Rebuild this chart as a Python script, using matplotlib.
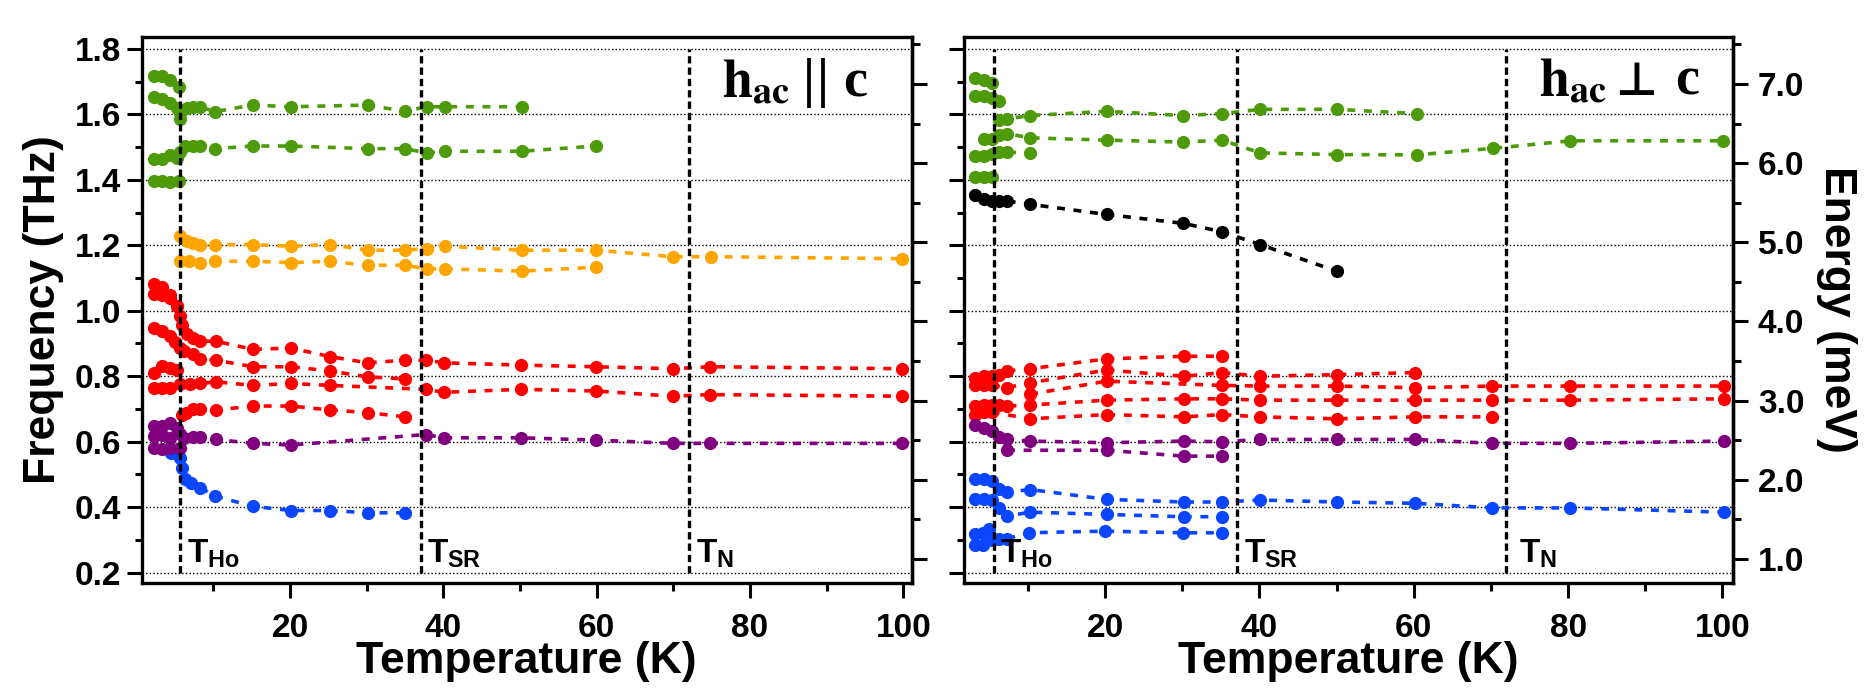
import matplotlib
matplotlib.use("Agg")
import matplotlib.pyplot as plt
from matplotlib.ticker import MultipleLocator, FormatStrFormatter

plt.rcParams['font.family'] = ['Liberation Sans', 'DejaVu Sans']
plt.rcParams['font.weight'] = 'bold'
plt.rcParams['mathtext.fontset'] = 'custom'
plt.rcParams['mathtext.rm'] = 'Liberation Sans:bold'
plt.rcParams['mathtext.it'] = 'Liberation Sans:bold'
plt.rcParams['mathtext.bf'] = 'Liberation Sans:bold'

GREEN = '#4d9a0a'
ORANGE = '#ffa500'
RED = '#ff0000'
PURPLE = '#800080'
BLUE = '#0a46ff'
BLACK = '#000000'

THZ_TO_MEV = 4.1357
T_HO, T_SR, T_N = 5.6, 37.1, 72.0

# ---- h_ac || c (left panel) ----
lg1_t = [2.2, 3.3, 4.4, 5.5]
lg1_f = [1.716, 1.716, 1.706, 1.684]
lg2_t = [2.2, 3.3, 4.3, 5.2, 5.6, 5.7, 6.5, 7.4, 8.2, 10.2, 15.1, 20.1, 30.1, 35.0, 37.8, 40.2, 50.2]
lg2_f = [1.653, 1.647, 1.635, 1.620, 1.605, 1.586, 1.620, 1.623, 1.623, 1.608, 1.628, 1.623, 1.628, 1.609, 1.623, 1.623, 1.623]
lg3_t = [2.2, 3.3, 4.3, 5.3, 5.7, 6.3, 7.4, 8.3, 10.2, 15.1, 20.1, 30.1, 35.0, 37.8, 40.2, 50.2, 59.9]
lg3_f = [1.464, 1.464, 1.477, 1.467, 1.485, 1.503, 1.503, 1.503, 1.495, 1.503, 1.503, 1.495, 1.495, 1.482, 1.487, 1.487, 1.503]
lg4_t = [2.2, 3.3, 4.3, 5.5]
lg4_f = [1.396, 1.396, 1.394, 1.396]

lo1_t = [5.6, 6.5, 7.4, 8.2, 10.2, 15.1, 20.1, 25.2, 30.1, 35.0, 37.8, 40.2, 50.2, 59.9, 70.0, 74.9, 99.8]
lo1_f = [1.228, 1.212, 1.208, 1.202, 1.202, 1.202, 1.197, 1.202, 1.185, 1.185, 1.190, 1.197, 1.185, 1.185, 1.165, 1.165, 1.159]
lo2_t = [5.6, 6.8, 8.2, 10.2, 15.1, 20.1, 25.2, 30.1, 35.0, 37.8, 40.2, 50.2, 59.9]
lo2_f = [1.151, 1.151, 1.147, 1.151, 1.151, 1.147, 1.151, 1.139, 1.139, 1.128, 1.128, 1.121, 1.133]

lr0_t = [2.2, 3.3, 4.4, 5.2]
lr0_f = [1.052, 1.048, 1.040, 1.014]
lr1_t = [2.2, 3.3, 4.3, 5.2, 5.6, 5.9, 6.5, 7.4, 8.3, 10.3, 15.2, 20.1, 25.2, 30.1, 35.0, 37.7, 40.1, 50.1, 59.9, 69.9, 74.8, 99.8]
lr1_f = [1.083, 1.073, 1.047, 1.014, 0.983, 0.955, 0.930, 0.918, 0.907, 0.907, 0.882, 0.886, 0.860, 0.841, 0.849, 0.849, 0.841, 0.834, 0.829, 0.823, 0.829, 0.823]
lr2_t = [2.2, 3.3, 4.3, 5.0, 5.6, 6.1, 7.4, 8.3, 10.3, 15.2, 20.1, 25.2, 30.1, 35.0]
lr2_f = [0.948, 0.938, 0.922, 0.905, 0.887, 0.877, 0.867, 0.853, 0.849, 0.829, 0.829, 0.816, 0.798, 0.792]
lr3_t = [2.2, 3.3, 4.3, 5.2]
lr3_f = [0.811, 0.831, 0.826, 0.820]
lr4_t = [2.2, 3.3, 4.3, 5.6, 7.0, 8.3, 10.3, 15.2, 20.1, 25.2, 37.7, 40.1, 50.1, 59.9, 69.9, 74.8, 99.8]
lr4_f = [0.765, 0.765, 0.765, 0.775, 0.775, 0.778, 0.783, 0.772, 0.778, 0.772, 0.760, 0.751, 0.760, 0.755, 0.739, 0.744, 0.739]
lr5_t = [5.9, 6.4, 7.4, 8.3, 10.3, 15.2, 20.1, 25.2, 30.1, 35.0]
lr5_f = [0.683, 0.689, 0.699, 0.699, 0.697, 0.709, 0.709, 0.697, 0.689, 0.676]

lp1_t = [2.2, 3.3, 4.3, 5.2, 5.6, 6.1, 7.4, 8.3, 10.3, 15.2, 20.1, 37.7, 40.1, 50.1, 59.9, 69.9, 74.8, 99.8]
lp1_f = [0.648, 0.648, 0.656, 0.643, 0.625, 0.612, 0.615, 0.615, 0.607, 0.595, 0.590, 0.622, 0.612, 0.612, 0.605, 0.595, 0.595, 0.595]
lp2_t = [2.2, 3.3, 4.3]
lp2_f = [0.617, 0.620, 0.612]
lp3_t = [2.2, 3.3, 4.3, 5.6]
lp3_f = [0.582, 0.578, 0.582, 0.582]

lb1_t = [4.5, 5.6, 5.9, 6.3, 7.1, 8.3, 10.2, 15.1, 20.1, 25.2, 30.1, 35.0]
lb1_f = [0.566, 0.551, 0.521, 0.485, 0.475, 0.460, 0.434, 0.403, 0.390, 0.390, 0.383, 0.383]

# ---- h_ac perp c (right panel) ----
rg1_t = [3.2, 4.3, 5.4]
rg1_f = [1.711, 1.704, 1.696]
rg2_t = [3.2, 4.3, 5.4, 6.3]
rg2_f = [1.657, 1.657, 1.650, 1.640]
rg3_t = [6.3, 7.3, 10.3, 20.2, 30.1, 35.2, 40.1, 50.0, 60.4]
rg3_f = [1.584, 1.586, 1.596, 1.609, 1.596, 1.602, 1.615, 1.615, 1.602]
rg4_t = [4.3, 5.4, 6.3, 7.3, 10.3, 20.2, 30.1, 35.2, 40.1, 50.0, 60.4, 70.3, 80.3, 100.1]
rg4_f = [1.523, 1.523, 1.538, 1.541, 1.528, 1.521, 1.515, 1.521, 1.482, 1.477, 1.476, 1.496, 1.519, 1.519]
rg5_t = [3.2, 4.3, 5.4, 6.3, 7.3, 10.3]
rg5_f = [1.472, 1.472, 1.480, 1.484, 1.484, 1.482]
rg6_t = [3.2, 4.3, 5.4]
rg6_f = [1.409, 1.409, 1.409]

rk_t = [3.2, 4.3, 5.4, 6.3, 7.3, 10.3, 20.2, 30.1, 35.2, 40.1, 50.0]
rk_f = [1.352, 1.342, 1.335, 1.335, 1.335, 1.325, 1.294, 1.267, 1.241, 1.202, 1.121]

rr1_t = [3.2, 4.3, 5.4, 6.3, 7.3, 10.3, 20.2, 30.2, 35.2]
rr1_f = [0.795, 0.800, 0.800, 0.805, 0.816, 0.823, 0.853, 0.861, 0.861]
rr2_t = [3.2, 4.3, 5.4, 7.3, 10.3, 20.2, 30.2, 35.2, 40.1, 50.1, 60.2]
rr2_f = [0.772, 0.772, 0.772, 0.765, 0.780, 0.819, 0.800, 0.811, 0.800, 0.805, 0.811]
rr3_t = [10.3, 20.2, 35.2, 40.1, 50.1, 60.2, 70.2, 80.2, 100.2]
rr3_f = [0.745, 0.785, 0.772, 0.770, 0.770, 0.765, 0.770, 0.770, 0.770]
rr4_t = [3.2, 4.3, 5.4, 6.3, 7.3, 10.3, 20.2, 30.2, 35.2, 40.1, 50.1, 60.2, 70.2, 80.2, 100.2]
rr4_f = [0.710, 0.712, 0.712, 0.712, 0.709, 0.712, 0.727, 0.731, 0.731, 0.727, 0.727, 0.727, 0.727, 0.727, 0.731]
rr5_t = [3.2, 4.3, 5.4, 10.3, 20.2, 30.2, 35.2, 40.1, 50.1, 60.2, 70.2]
rr5_f = [0.683, 0.690, 0.690, 0.670, 0.683, 0.676, 0.683, 0.676, 0.670, 0.676, 0.676]

rp1_t = [3.2, 4.3, 5.4, 6.3, 7.3, 10.3, 20.2, 30.2, 35.2, 40.1, 50.1, 60.2, 70.2, 80.2, 100.2]
rp1_f = [0.650, 0.643, 0.632, 0.615, 0.607, 0.602, 0.597, 0.602, 0.600, 0.607, 0.607, 0.607, 0.595, 0.595, 0.602]
rp2_t = [7.3, 20.2, 30.2, 35.2]
rp2_f = [0.574, 0.574, 0.556, 0.556]

rb1_t = [3.2, 4.3, 5.4, 6.3, 7.3, 10.3, 20.2, 30.2, 35.2, 40.1, 50.1, 60.2, 70.2, 80.2, 100.2]
rb1_f = [0.487, 0.487, 0.480, 0.457, 0.446, 0.454, 0.424, 0.416, 0.416, 0.422, 0.416, 0.412, 0.398, 0.398, 0.385]
rb2_t = [3.2, 4.3, 5.4, 6.3, 7.3, 10.3, 20.2, 30.2, 35.2]
rb2_f = [0.424, 0.424, 0.422, 0.398, 0.373, 0.385, 0.378, 0.371, 0.371]
rb3_t = [3.2, 4.2, 5.0]
rb3_f = [0.317, 0.322, 0.334]
rb4_t = [3.2, 4.2, 5.4, 6.3, 7.3, 10.1, 20.0, 30.1, 35.2]
rb4_f = [0.286, 0.286, 0.300, 0.304, 0.304, 0.322, 0.327, 0.322, 0.322]

left_series = [
    (lg1_t, lg1_f, GREEN), (lg2_t, lg2_f, GREEN), (lg3_t, lg3_f, GREEN), (lg4_t, lg4_f, GREEN),
    (lo1_t, lo1_f, ORANGE), (lo2_t, lo2_f, ORANGE),
    (lr0_t, lr0_f, RED), (lr1_t, lr1_f, RED), (lr2_t, lr2_f, RED), (lr3_t, lr3_f, RED),
    (lr4_t, lr4_f, RED), (lr5_t, lr5_f, RED),
    (lb1_t, lb1_f, BLUE),
    (lp1_t, lp1_f, PURPLE), (lp2_t, lp2_f, PURPLE), (lp3_t, lp3_f, PURPLE),
]
right_series = [
    (rg1_t, rg1_f, GREEN), (rg2_t, rg2_f, GREEN), (rg3_t, rg3_f, GREEN),
    (rg4_t, rg4_f, GREEN), (rg5_t, rg5_f, GREEN), (rg6_t, rg6_f, GREEN),
    (rk_t, rk_f, BLACK),
    (rr1_t, rr1_f, RED), (rr2_t, rr2_f, RED), (rr3_t, rr3_f, RED), (rr4_t, rr4_f, RED), (rr5_t, rr5_f, RED),
    (rp1_t, rp1_f, PURPLE), (rp2_t, rp2_f, PURPLE),
    (rb1_t, rb1_f, BLUE), (rb2_t, rb2_f, BLUE), (rb3_t, rb3_f, BLUE), (rb4_t, rb4_f, BLUE),
]


def thz2mev(f):
    return f * THZ_TO_MEV


def mev2thz(e):
    return e / THZ_TO_MEV


def style_panel(ax, xlim):
    ax.set_xlim(*xlim)
    ax.set_ylim(0.17, 1.835)
    for s in ax.spines.values():
        s.set_linewidth(2.4)
    ax.xaxis.set_major_locator(MultipleLocator(20))
    ax.xaxis.set_minor_locator(MultipleLocator(10))
    ax.yaxis.set_major_locator(MultipleLocator(0.2))
    ax.yaxis.set_minor_locator(MultipleLocator(0.1))
    ax.yaxis.set_major_formatter(FormatStrFormatter('%.1f'))
    ax.tick_params(which='both', direction='out', width=2.2, right=False, top=False)
    ax.tick_params(which='major', length=10.8, labelsize=24)
    ax.tick_params(which='minor', length=5.4)
    ax.tick_params(axis='x', which='major', pad=11)
    ax.tick_params(axis='y', which='major', pad=4)
    ax.yaxis.grid(True, which='major', color='k', lw=1.0, ls=(0, (1, 1.6)), zorder=0)
    ax.set_axisbelow(True)
    ax.set_xlabel('Temperature (K)', fontsize=32, fontweight='bold', labelpad=-2)

    sec = ax.secondary_yaxis('right', functions=(thz2mev, mev2thz))
    sec.spines['right'].set_linewidth(2.4)
    sec.yaxis.set_major_locator(MultipleLocator(1))
    sec.yaxis.set_minor_locator(MultipleLocator(0.5))
    sec.yaxis.set_major_formatter(FormatStrFormatter('%.1f'))
    sec.tick_params(which='both', direction='out', width=2.2)
    sec.tick_params(which='major', length=10.8, labelsize=24, pad=7)
    sec.tick_params(which='minor', length=5.4)
    return sec


def draw_panel(ax, series, labx):
    for t, f, c in series:
        ax.plot(t, f, color=c, lw=2.6, ls=(0, (2.2, 2.4)), marker='o', ms=9.5,
                markeredgewidth=0, zorder=3)
    ax.vlines([T_HO, T_SR, T_N], 0.2, 1.8, colors='k', lw=2.4,
              linestyles=[(0, (2.2, 1.2))], zorder=5)
    for x, lab in zip(labx, [r'$T_{Ho}$', r'$T_{SR}$', r'$T_{N}$']):
        ax.text(x, 0.232, lab, fontsize=24, ha='left', va='baseline', zorder=6)


def field_label(ax, x_h, x_c, y):
    ax.text(x_h, y, r'$\mathbf{h_{ac}}$', fontsize=39, math_fontfamily='stix',
            ha='left', va='baseline', zorder=6)
    ax.text(x_c, y, 'c', fontsize=39, family='Liberation Serif', fontweight='bold',
            ha='left', va='baseline', zorder=6)


fig = plt.figure(figsize=(18.75, 6.96), dpi=100)
ax1 = fig.add_axes([0.0756, 0.163, 0.4107, 0.7834])
ax2 = fig.add_axes([0.5141, 0.163, 0.4103, 0.7834])

sec1 = style_panel(ax1, (0.65, 101.1))
sec1.tick_params(labelright=False)
ax1.set_ylabel('Frequency (THz)', fontsize=32, fontweight='bold', labelpad=8)
draw_panel(ax1, left_series, [6.5, 37.8, 72.9])
field_label(ax1, 76.3, 92.2, 1.655)
for xb in (86.9, 88.7):
    ax1.text(xb, 1.655, '|', fontsize=39, family='Liberation Serif', fontweight='bold',
             ha='left', va='baseline', zorder=6)

sec2 = style_panel(ax2, (1.72, 101.4))
ax2.tick_params(labelleft=False)
sec2.set_ylabel('Energy (meV)', fontsize=32, fontweight='bold', rotation=270, labelpad=38)
draw_panel(ax2, right_series, [6.4, 38.0, 73.6])
field_label(ax2, 76.2, 93.9, 1.659)
ax2.text(86.1, 1.659, '\u22a5', fontsize=33, family='DejaVu Sans', fontweight='bold',
         ha='left', va='baseline', zorder=6)

fig.savefig('out.png', dpi=100)
